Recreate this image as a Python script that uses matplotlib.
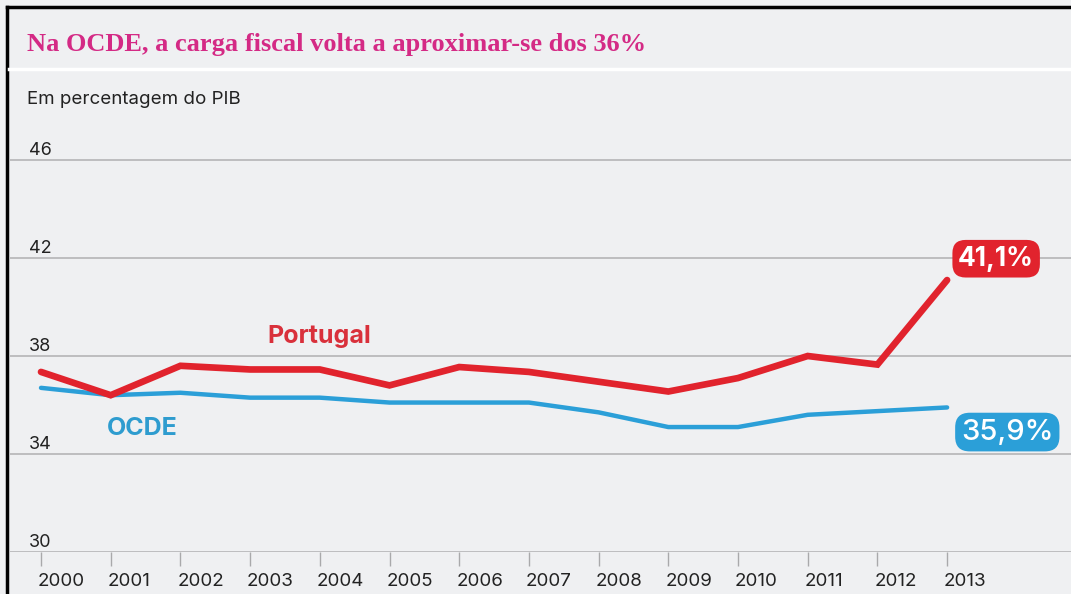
import matplotlib
matplotlib.use("Agg")
import matplotlib.pyplot as plt
import matplotlib.transforms as mtransforms

years = [2000, 2001, 2002, 2003, 2004, 2005, 2006, 2007, 2008, 2009, 2010, 2011, 2012, 2013]
portugal = [37.35, 36.4, 37.6, 37.45, 37.45, 36.8, 37.55, 37.35, 36.95, 36.55, 37.1, 38.0, 37.65, 41.1]
ocde = [36.7, 36.4, 36.5, 36.3, 36.3, 36.1, 36.1, 36.1, 35.7, 35.1, 35.1, 35.6, 35.75, 35.9]
yticks = [30, 34, 38, 42, 46]
title = "Na OCDE, a carga fiscal volta a aproximar-se dos 36%"
subtitle = "Em percentagem do PIB"
label_pt = "Portugal"
label_oc = "OCDE"
end_pt = "41,1%"
end_oc = "35,9%"

W, H = 1071, 594
bg = "#eff0f2"
red = "#e1232d"
blue = "#2b9fd8"
sans = ["Inter", "DejaVu Sans"]

fig = plt.figure(figsize=(W / 100, H / 100), dpi=100, facecolor=bg)

# frame lines (left and top) and title separator
fig.add_artist(plt.Line2D([7 / W, 7 / W], [0, 1 - 7 / H], color="black", lw=2.5, transform=fig.transFigure))
fig.add_artist(plt.Line2D([7 / W, 1], [1 - 7 / H, 1 - 7 / H], color="black", lw=2.5, transform=fig.transFigure))
fig.add_artist(plt.Line2D([9 / W, 1], [1 - 69 / H, 1 - 69 / H], color="white", lw=2.5, transform=fig.transFigure))

fig.text(27 / W, 1 - 45 / H, title, color="#d42a85", fontsize=19, fontweight="bold",
         family=["Liberation Serif", "DejaVu Serif"], va="center", ha="left")
fig.text(27 / W, 1 - 100 / H, subtitle, color="#222222", fontsize=13.5, family=sans, va="center", ha="left")

# axes in pixel geometry
ax_left, ax_right, ax_top, ax_bottom = 10, 1071, 130, 552
ax = fig.add_axes([ax_left / W, 1 - ax_bottom / H, (ax_right - ax_left) / W, (ax_bottom - ax_top) / H])
ax.set_facecolor(bg)
px_per_year = 69.7
px_per_unit = 24.5
x0 = years[0] + (ax_left - 41) / px_per_year
x1 = years[0] + (ax_right - 41) / px_per_year
ax.set_xlim(x0, x1)
ax.set_ylim(30, 30 + (ax_bottom - ax_top) / px_per_unit)

for s in ax.spines.values():
    s.set_visible(False)

for v in yticks:
    ax.axhline(v, color="#b9b9bb", lw=1.3, zorder=1)
ax.set_yticks([])

trans = mtransforms.blended_transform_factory(ax.transAxes, ax.transData)
for v in yticks:
    ax.text(19 / (ax_right - ax_left), v + 0.22, str(v), transform=trans, fontsize=13,
            family=sans, color="#222222", va="baseline", ha="left")

ax.set_xticks(years)
ax.set_xticklabels([str(y) for y in years], fontsize=13.5, family=sans, color="#222222")
ax.tick_params(axis="x", length=10, width=1, color="#a9a9ab", pad=5, direction="out")
offset = mtransforms.ScaledTranslation(-3 / 100, 0, fig.dpi_scale_trans)
for lbl in ax.get_xticklabels():
    lbl.set_ha("left")
    lbl.set_transform(lbl.get_transform() + offset)

ax.plot(years, ocde, color=blue, lw=3.2, solid_capstyle="round", solid_joinstyle="round", zorder=3)
ax.plot(years, portugal, color=red, lw=4.8, solid_capstyle="round", solid_joinstyle="miter", zorder=4)

ax.text(2003.99, 38.78, label_pt, color="#d9303b", fontsize=18, fontweight="bold", family=sans,
        ha="center", va="center")
ax.text(2001.45, 35.06, label_oc, color="#2e9ccf", fontsize=18, fontweight="bold", family=sans,
        ha="center", va="center")

ax.annotate(end_pt, xy=(years[-1], portugal[-1]), xytext=(8, 6), textcoords="offset points",
            color="white", fontsize=19, fontweight="bold", family=sans, ha="left", va="bottom",
            bbox=dict(boxstyle="round,pad=0.22,rounding_size=0.5", fc=red, ec="none"), zorder=5,
            annotation_clip=False)
ax.annotate(end_oc, xy=(years[-1], ocde[-1]), xytext=(10, -8), textcoords="offset points",
            color="white", fontsize=21, fontweight="medium", family=sans, ha="left", va="top",
            bbox=dict(boxstyle="round,pad=0.2,rounding_size=0.5", fc=blue, ec="none"), zorder=5,
            annotation_clip=False)

fig.savefig("out.png", dpi=100, facecolor=bg)
